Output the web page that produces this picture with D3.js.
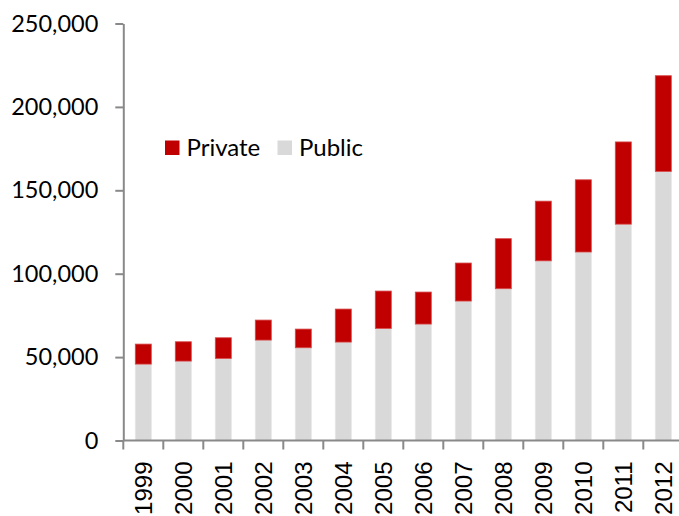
<!DOCTYPE html>
<html>
<head>
<meta charset="utf-8">
<script src="https://cdn.jsdelivr.net/npm/d3@7/dist/d3.min.js"></script>
<style>
  html, body { margin: 0; padding: 0; background: #fff; }
  svg { display: block; }
</style>
</head>
<body>
<svg id="chart" width="679" height="516"></svg>
<script>
// Funding by year, split into public and private sources
const years = ["1999","2000","2001","2002","2003","2004","2005","2006","2007","2008","2009","2010","2011","2012"];
const publicValues  = [45800, 47600, 49200, 60200, 55600, 59000, 67200, 69800, 83600, 91000, 107700, 113000, 129700, 161300];
const privateValues = [12000, 11600, 12400, 12000, 11200, 19800, 22400, 19200, 22800, 30000, 35800, 43300, 49300, 57400];
const yTicks = [0, 50000, 100000, 150000, 200000, 250000];
const seriesNames = ["Public", "Private"];
const seriesColors = { Public: "#d9d9d9", Private: "#c00000" };
const seriesEdges  = { Public: "#e6e6e6", Private: "#d64a4a" };

const rows = years.map((y, i) => ({ year: y, Public: publicValues[i], Private: privateValues[i] }));

const svg = d3.select("#chart");
const margin = { left: 123.3, right: -4.3, top: 23.5, bottom: 75.5 };
const W = 679, H = 516;

const x = d3.scaleBand()
  .domain(years)
  .range([margin.left, W - margin.right])
  .paddingInner(0.6)
  .paddingOuter(0.3);

const y = d3.scaleLinear()
  .domain([0, 250000])
  .range([H - margin.bottom, margin.top]);

const axisColor = "#898989";
const labelFont = "Lato, 'Open Sans', sans-serif";

// stacked bars
const stacked = d3.stack().keys(seriesNames)(rows);
svg.append("g")
  .selectAll("g")
  .data(stacked)
  .join("g")
    .attr("fill", d => seriesColors[d.key])
    .attr("stroke", d => seriesEdges[d.key])
    .attr("stroke-width", 0.8)
  .selectAll("rect")
  .data(d => d)
  .join("rect")
    .attr("x", d => x(d.data.year))
    .attr("width", x.bandwidth())
    .attr("y", d => y(d[1]))
    .attr("height", d => y(d[0]) - y(d[1]));

// y axis
const yAxis = svg.append("g")
  .attr("transform", `translate(${margin.left},0)`)
  .call(d3.axisLeft(y).tickValues(yTicks).tickSize(8).tickSizeOuter(0).tickPadding(17)
    .tickFormat(d3.format(",")));
yAxis.select(".domain").attr("stroke", axisColor).attr("stroke-width", 2);
yAxis.selectAll(".tick line").attr("stroke", axisColor).attr("stroke-width", 2);
yAxis.selectAll(".tick text")
  .attr("font-family", labelFont)
  .attr("font-size", 23.5)
  .attr("fill", "#000");

// x axis: line along zero, ticks between categories
const step = x.step();
const xAxisG = svg.append("g").attr("transform", `translate(0,${y(0)})`);
xAxisG.append("line")
  .attr("x1", margin.left).attr("x2", W)
  .attr("stroke", axisColor).attr("stroke-width", 2);
xAxisG.selectAll("line.sep")
  .data(years)
  .join("line")
    .attr("class", "sep")
    .attr("x1", d => x(d) - step * 0.3)
    .attr("x2", d => x(d) - step * 0.3)
    .attr("y1", 0).attr("y2", 9)
    .attr("stroke", axisColor).attr("stroke-width", 2);
xAxisG.selectAll("text")
  .data(years)
  .join("text")
    .attr("transform", d => `translate(${x(d) + x.bandwidth() / 2},21) rotate(-90)`)
    .attr("text-anchor", "end")
    .attr("dy", "0.36em")
    .attr("font-family", "'Liberation Sans', Arial, sans-serif")
    .attr("font-size", 24)
    .attr("fill", "#000")
    .text(d => d);

// legend
const legendItems = [
  { name: "Private", sx: 165, tx: 186.5 },
  { name: "Public",  sx: 277.5, tx: 299 }
];
const lg = svg.append("g");
lg.selectAll("rect")
  .data(legendItems)
  .join("rect")
    .attr("x", d => d.sx).attr("y", 140.5)
    .attr("width", 14.5).attr("height", 14.5)
    .attr("fill", d => seriesColors[d.name]);
lg.selectAll("text")
  .data(legendItems)
  .join("text")
    .attr("x", d => d.tx).attr("y", 155.5)
    .attr("font-family", labelFont)
    .attr("font-size", 24)
    .attr("fill", "#000")
    .text(d => d.name);
</script>
</body>
</html>
